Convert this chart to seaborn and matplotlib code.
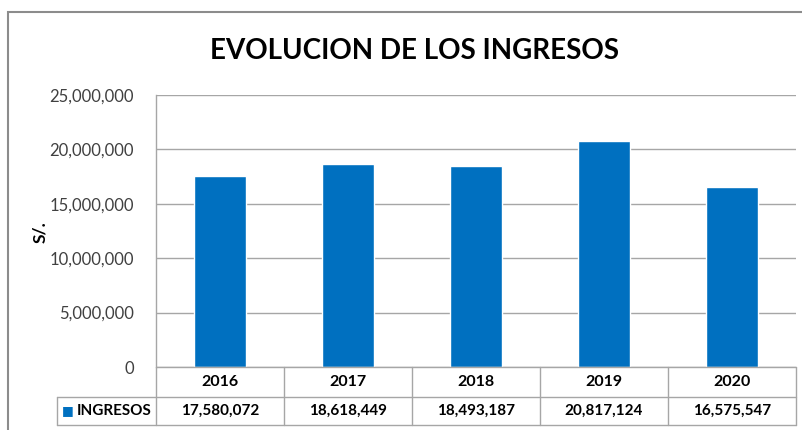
import matplotlib
matplotlib.use("Agg")
import matplotlib.pyplot as plt
import matplotlib.ticker as mticker
import seaborn as sns
import pandas as pd

# Data
years = ["2016", "2017", "2018", "2019", "2020"]
ingresos = [17580072, 18618449, 18493187, 20817124, 16575547]
series_name = "INGRESOS"
title = "EVOLUCION DE LOS INGRESOS"
ylabel = "S/."

df = pd.DataFrame({"Year": years, "Ingresos": ingresos})

sns.set_style("white")
plt.rcParams["font.family"] = ["Lato", "DejaVu Sans"]

bar_color = "#0070C0"
grid_color = "#A6A6A6"
W, H = 802, 430

fig = plt.figure(figsize=(W / 100, H / 100), dpi=100)
ax = fig.add_axes([156 / W, (H - 367) / H, 640 / W, 272 / H])

sns.barplot(data=df, x="Year", y="Ingresos", color=bar_color, width=0.4,
            saturation=1, ax=ax)

ax.set_ylim(0, 25000000)
ax.set_xlim(-0.5, len(years) - 0.5)
ax.yaxis.set_major_locator(mticker.MultipleLocator(5000000))
ax.yaxis.set_major_formatter(mticker.FuncFormatter(lambda v, p: f"{int(v):,}"))
ax.tick_params(axis="y", labelsize=12, length=0, pad=16, colors="#404040")
ax.tick_params(axis="x", length=0, labelbottom=False)
ax.set_xlabel("")
ax.set_ylabel("")
ax.yaxis.grid(True, color=grid_color, lw=1)
ax.set_axisbelow(True)
for side in ["top", "right", "bottom"]:
    ax.spines[side].set_visible(False)
ax.spines["left"].set_color(grid_color)
ax.spines["left"].set_linewidth(1)

# Data table under the chart
r1 = -30 / 272
r2 = -58 / 272
lx = (57 - 156) / 640
n = len(years)
tk = dict(transform=ax.transAxes, clip_on=False, color=grid_color, lw=1)
ax.plot([0, 1], [0, 0], **tk)
ax.plot([lx, 1], [r1, r1], **tk)
ax.plot([lx, 1], [r2, r2], **tk)
ax.plot([lx, lx], [r1, r2], **tk)
for i in range(n + 1):
    ax.plot([i / n, i / n], [0, r2], **tk)
for i, (yr, v) in enumerate(zip(years, ingresos)):
    xc = (i + 0.5) / n
    ax.text(xc, r1 / 2, yr, transform=ax.transAxes, ha="center", va="center",
            fontsize=11.5, fontweight="bold", color="black")
    ax.text(xc, (r1 + r2) / 2, f"{v:,}", transform=ax.transAxes, ha="center",
            va="center", fontsize=11, fontweight="bold", color="black")
ax.text(lx + 0.007, (r1 + r2) / 2, "■", transform=ax.transAxes, ha="left",
        va="center", fontsize=9, color=bar_color, family="DejaVu Sans")
ax.text(lx + 0.031, (r1 + r2) / 2, series_name, transform=ax.transAxes,
        ha="left", va="center", fontsize=11, fontweight="bold", color="black")

fig.text(415 / W, 1 - 51 / H, title, ha="center", va="center",
         fontsize=20, fontweight="bold", color="black")
fig.text(40 / W, 1 - 232 / H, ylabel, ha="center", va="center", rotation=90,
         fontsize=12.5, fontweight="bold", color="black")

# Chart border
fig.add_artist(plt.Rectangle((8 / W, -0.1), 1.0, 1 - 12 / H + 0.1,
                             transform=fig.transFigure, fill=False,
                             edgecolor="#8C8C8C", lw=1.5))

fig.savefig("out.png", dpi=100)
